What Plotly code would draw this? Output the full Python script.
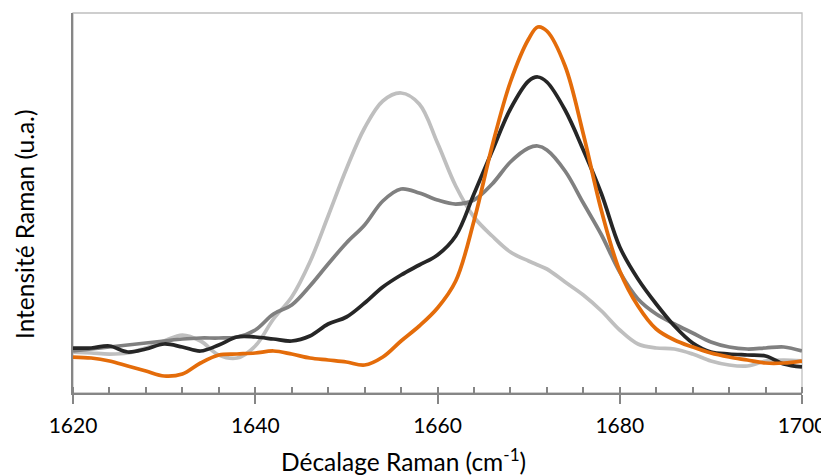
import plotly.graph_objects as go

# Raman shift (cm-1)
shift = [1620, 1622, 1624, 1626, 1628, 1630, 1632, 1634, 1636, 1638, 1640,
         1642, 1644, 1646, 1648, 1650, 1652, 1654, 1656, 1658, 1660,
         1662, 1664, 1666, 1668, 1670, 1671, 1672, 1674, 1676, 1678, 1680,
         1682, 1684, 1686, 1688, 1690, 1692, 1694, 1696, 1698, 1700]

# Intensities (a.u.)
light_gray = [41, 40, 39, 40, 45, 52, 58, 52, 38, 35, 47,
              74, 96, 131, 177, 224, 265, 292, 300, 289, 250,
              207, 176, 157, 141, 132, 128, 124, 111, 98, 82, 63,
              49, 45, 44, 39, 32, 28, 27, 32, 33, 32]
mid_gray = [42, 44, 46, 48, 50, 52, 54, 55, 55, 56, 63,
            79, 88, 107, 129, 150, 168, 192, 204, 200, 193,
            189, 193, 209, 231, 245, 247, 243, 222, 190, 158, 121,
            94, 79, 69, 60, 51, 46, 44, 45, 46, 42]
black = [45, 45, 47, 41, 44, 49, 46, 42, 48, 56, 56,
         54, 52, 57, 69, 76, 90, 106, 118, 128, 138,
         157, 199, 242, 284, 312, 316, 311, 283, 243, 199, 146,
         114, 89, 67, 50, 41, 39, 38, 37, 29, 26]
orange = [36, 35, 32, 27, 22, 17, 19, 30, 38, 39, 40,
          42, 39, 35, 33, 31, 28, 36, 52, 67, 85,
          112, 172, 247, 311, 354, 366, 362, 327, 259, 182, 122,
          87, 64, 53, 46, 40, 36, 33, 30, 30, 32]

series = [
    ("Série 1", light_gray, "#BFBFBF"),
    ("Série 2", mid_gray, "#808080"),
    ("Série 3", black, "#262626"),
    ("Série 4", orange, "#E46C0A"),
]

fig = go.Figure()
for name, vals, col in series:
    fig.add_trace(go.Scatter(
        x=shift, y=vals, name=name, mode="lines",
        line=dict(color=col, width=3.75, shape="spline", smoothing=1.0),
        showlegend=False,
    ))

font_family = "Lato, Open Sans, sans-serif"

fig.update_layout(
    template="none",
    width=821, height=467,
    margin=dict(l=65, r=27, t=5, b=82, autoexpand=False),
    paper_bgcolor="white", plot_bgcolor="white",
    font=dict(family=font_family, size=22, color="#000000"),
    xaxis=dict(
        range=[1620, 1700], tickmode="linear", tick0=1620, dtick=20,
        showgrid=False, zeroline=False, automargin=False,
        showline=True, linecolor="#868686", linewidth=2,
        ticks="outside", ticklen=9, tickwidth=1.5, tickcolor="#868686",
        minor=dict(ticks="inside", dtick=4, tick0=1620, ticklen=6,
                   tickwidth=1.5, tickcolor="#868686", showgrid=False),
        tickfont=dict(family=font_family, size=21, color="#000000"),
        ticklabelstandoff=4,
        ticklabeloverflow="allow",
    ),
    yaxis=dict(
        range=[0, 380], showticklabels=False, ticks="",
        showgrid=False, zeroline=False, automargin=False,
        showline=True, linecolor="#868686", linewidth=2,
    ),
    shapes=[dict(type="rect", xref="paper", yref="paper", x0=0, x1=1, y0=0, y1=1,
                 line=dict(color="#BFBFBF", width=1.3), layer="below")],
    annotations=[
        dict(text="Décalage Raman (cm<sup>-1</sup>)", xref="paper", yref="paper",
             x=0.4534, y=-0.177, xanchor="center", yanchor="middle", showarrow=False,
             font=dict(family=font_family, size=24.5, color="#000000")),
        dict(text="Intensité Raman (u.a.)", xref="paper", yref="paper",
             x=-0.0672, y=0.442, xanchor="center", yanchor="middle", showarrow=False,
             textangle=-90,
             font=dict(family=font_family, size=24.5, color="#000000")),
    ],
)

fig.write_html("out.html")
